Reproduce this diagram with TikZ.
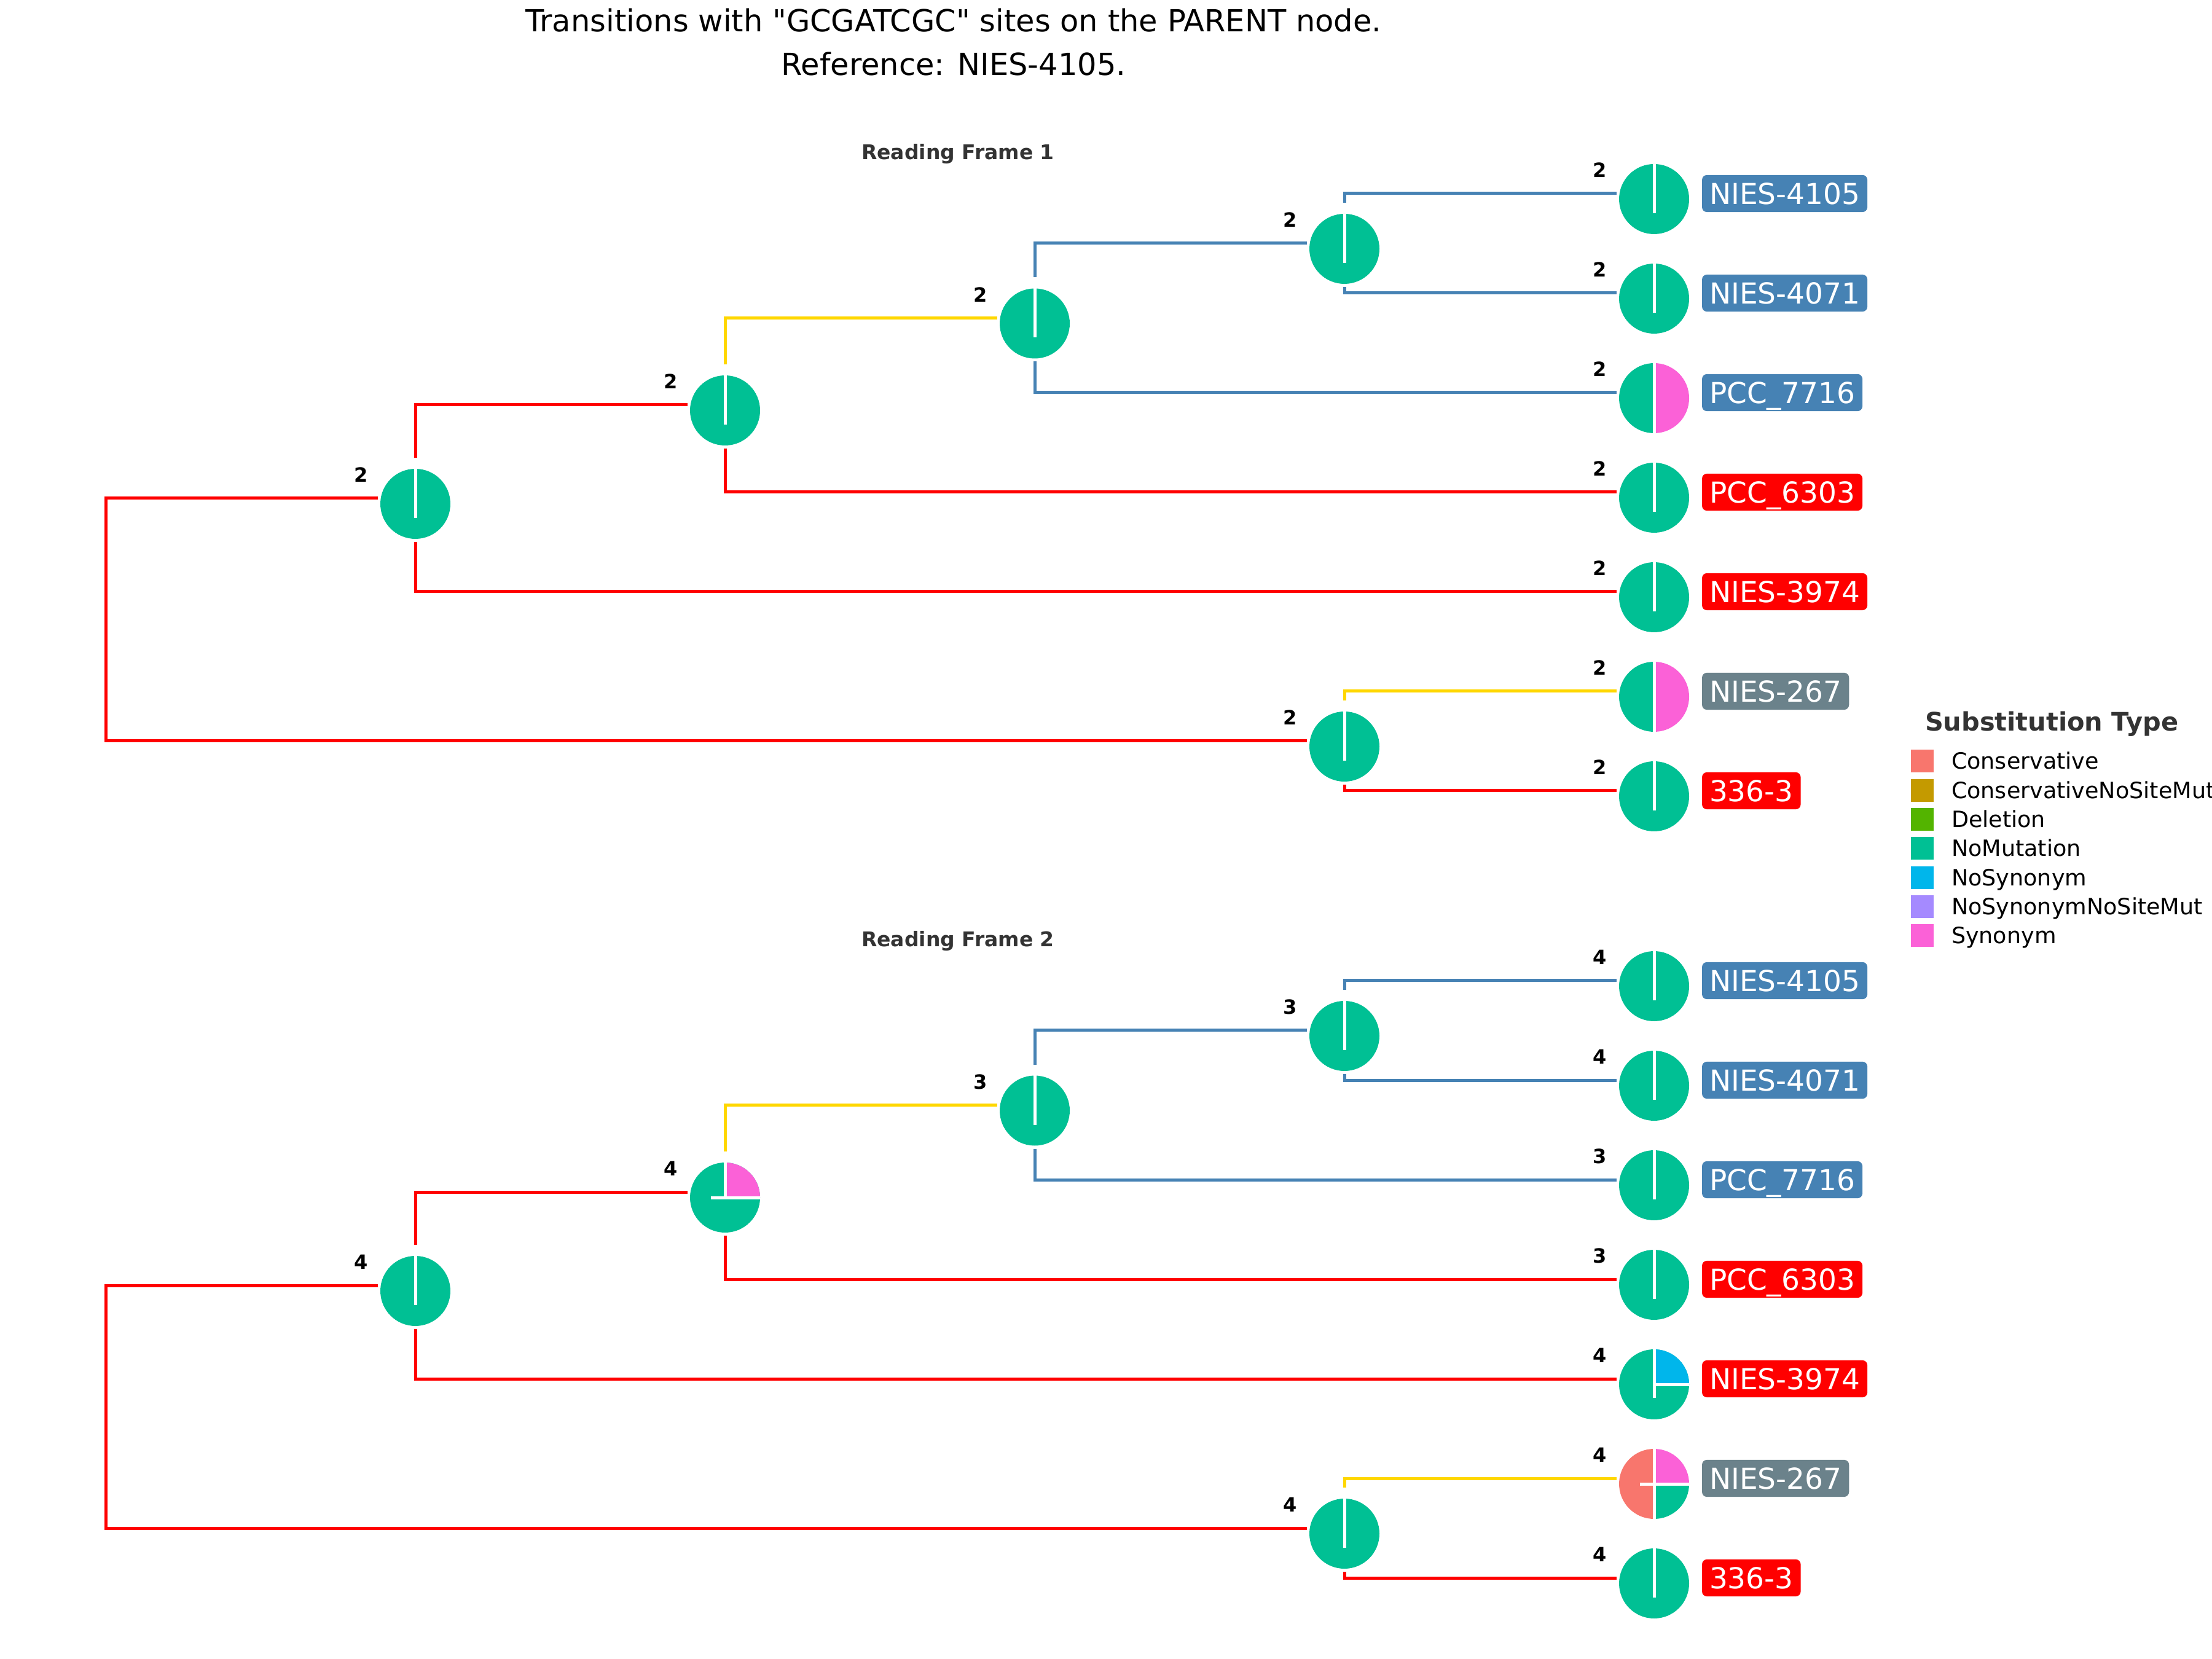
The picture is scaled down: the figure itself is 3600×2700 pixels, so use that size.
\documentclass[tikz,border=0pt]{standalone}
\usepackage{fontspec}
\setmainfont{DejaVu Sans}[Ligatures=TeXOff]
\usetikzlibrary{calc}
\definecolor{nomut}{HTML}{00C094}
\definecolor{syn}{HTML}{FB61D7}
\definecolor{nosyn}{HTML}{00B6EB}
\definecolor{cons}{HTML}{F8766D}
\definecolor{consnsm}{HTML}{C49A00}
\definecolor{delet}{HTML}{53B400}
\definecolor{nosynnsm}{HTML}{A58AFF}
\definecolor{steel}{HTML}{4682B4}
\definecolor{goldb}{HTML}{FFD700}
\definecolor{redb}{HTML}{FF0000}
\definecolor{graylab}{HTML}{6B828B}
\definecolor{darktxt}{HTML}{333333}
\tikzset{
  br/.style={line width=1pt},
  sep/.style={draw=white,line width=1pt},
  num/.style={font=\bfseries\fontsize{6.4}{6.4}\selectfont, inner sep=0pt, text=black},
  leaf/.style={anchor=west,text=white,rounded corners=1.6pt,font=\fontsize{9.4}{9.4}\selectfont,text height=6.85pt,text depth=0pt,inner xsep=2.4pt,inner ysep=2.6pt},
  ptitle/.style={anchor=base,font=\bfseries\fontsize{6.6}{6.6}\selectfont,text=darktxt,inner sep=0pt},
  key/.style={minimum size=7.4pt,inner sep=0pt},
  legtxt/.style={anchor=base west,font=\fontsize{7.3}{7.3}\selectfont,inner sep=0pt}
}
\newcommand\treecoords[2]{%
  \coordinate (#1root) at (172,{1008.5+#2});
  \coordinate (#1A) at (676,{811+#2});
  \coordinate (#1C) at (1180,{659+#2});
  \coordinate (#1D) at (1684,{517.5+#2});
  \coordinate (#1E) at (2188,{396+#2});
  \coordinate (#1B) at (2188,{1206+#2});
  \coordinate (#1L1) at (2692,{315+#2});
  \coordinate (#1L2) at (2692,{477+#2});
  \coordinate (#1L3) at (2692,{639+#2});
  \coordinate (#1L4) at (2692,{801+#2});
  \coordinate (#1L5) at (2692,{963+#2});
  \coordinate (#1L6) at (2692,{1125+#2});
  \coordinate (#1L7) at (2692,{1287+#2});
}
\newcommand\edgeD[3]{\draw[br,#1] ($(#2)+(0,71)$) |- ($(#3)+(-61,0)$);}
\newcommand\edgeU[3]{\draw[br,#1] ($(#2)+(0,-66)$) |- ($(#3)+(-61,0)$);}
\newcommand\treeedges[1]{%
  \draw[br,redb] ($(#1A)+(-61,0)$) -- (#1A -| #1root) -- (#1B -| #1root) -- ($(#1B)+(-61,0)$);
  \edgeU{redb}{#1A}{#1C}
  \edgeD{redb}{#1A}{#1L5}
  \edgeU{goldb}{#1C}{#1D}
  \edgeD{redb}{#1C}{#1L4}
  \edgeU{steel}{#1D}{#1E}
  \edgeD{steel}{#1D}{#1L3}
  \edgeU{steel}{#1E}{#1L1}
  \edgeD{steel}{#1E}{#1L2}
  \edgeU{goldb}{#1B}{#1L6}
  \edgeD{redb}{#1B}{#1L7}
}
\newcommand\leaflabels[1]{%
  \node[leaf,fill=steel] (#1n1) at ($(#1L1)+(77,0)$) {NIES-4105};
  \node[leaf,fill=steel] (#1n2) at ($(#1L2)+(77,0)$) {NIES-4071};
  \node[leaf,fill=steel] (#1n3) at ($(#1L3)+(77,0)$) {PCC\_7716};
  \node[leaf,fill=redb] (#1n4) at ($(#1L4)+(77,0)$) {PCC\_6303};
  \node[leaf,fill=redb] (#1n5) at ($(#1L5)+(77,0)$) {NIES-3974};
  \node[leaf,fill=graylab] (#1n6) at ($(#1L6)+(77,0)$) {NIES-267};
  \node[leaf,fill=redb] (#1n7) at ($(#1L7)+(77,0)$) {336-3};
}
\newcommand\nlab[2]{\node[num] (#1num) at ($(#1)+(-88,-38)$) {#2};}
% pies
\newcommand\pieG[1]{\begin{scope}[shift={(#1)},yshift=-1.8pt]
  \fill[nomut] (0,0) circle[radius=11.4pt];
  \draw[sep] (0,11.4pt) -- (0,-4.6pt);
\end{scope}}
\newcommand\pieH[3]{\begin{scope}[shift={(#1)},yshift=-1.8pt]
  \fill[#2] (0,0) -- (90:11.4pt) arc[start angle=90,end angle=270,radius=11.4pt] -- cycle;
  \fill[#3] (0,0) -- (-90:11.4pt) arc[start angle=-90,end angle=90,radius=11.4pt] -- cycle;
  \draw[sep] (0,11.4pt) -- (0,-11.4pt);
\end{scope}}
\newcommand\pieQ[1]{\begin{scope}[shift={(#1)},yshift=-1.8pt]
  \fill[nomut] (0,0) circle[radius=11.4pt];
  \fill[syn] (0,0) -- (0:11.4pt) arc[start angle=0,end angle=90,radius=11.4pt] -- cycle;
  \draw[sep] (0,11.4pt) -- (0,0);
  \draw[sep] (11.4pt,0) -- (-4.6pt,0);
\end{scope}}
\newcommand\pieNS[1]{\begin{scope}[shift={(#1)},yshift=-1.8pt]
  \fill[nomut] (0,0) circle[radius=11.4pt];
  \fill[nosyn] (0,0) -- (0:11.4pt) arc[start angle=0,end angle=90,radius=11.4pt] -- cycle;
  \draw[sep] (0,11.4pt) -- (0,-4.4pt);
  \draw[sep] (11.4pt,0) -- (0,0);
\end{scope}}
\newcommand\pieMix[1]{\begin{scope}[shift={(#1)},yshift=-1.8pt]
  \fill[cons] (0,0) -- (90:11.4pt) arc[start angle=90,end angle=270,radius=11.4pt] -- cycle;
  \fill[syn] (0,0) -- (0:11.4pt) arc[start angle=0,end angle=90,radius=11.4pt] -- cycle;
  \fill[nomut] (0,0) -- (-90:11.4pt) arc[start angle=-90,end angle=0,radius=11.4pt] -- cycle;
  \draw[sep] (0,11.4pt) -- (0,-11.4pt);
  \draw[sep] (11.4pt,0) -- (-4.6pt,0);
\end{scope}}
\begin{document}
\begin{tikzpicture}[x=0.2pt,y=-0.2pt]
\fill[white] (0,0) rectangle (3600,2700);
\clip (0,0) rectangle (3600,2700);
% titles
\node[anchor=base,inner sep=0pt,font=\fontsize{9.9}{9.9}\selectfont] (title1) at (1552,52) {Transitions with "GCGATCGC" sites on the PARENT node.};
\node[anchor=base,inner sep=0pt,font=\fontsize{9.9}{9.9}\selectfont] (title2) at (1552,123) {Reference: NIES-4105.};
\node[ptitle] (rf1) at (1559,260) {Reading Frame 1};
\node[ptitle] (rf2) at (1559,1541) {Reading Frame 2};
% trees
\treecoords{p}{0}
\treecoords{q}{1281}
\treeedges{p}
\treeedges{q}
% panel 1 pies
\pieG{pA}\pieG{pC}\pieG{pD}\pieG{pE}\pieG{pB}
\pieG{pL1}\pieG{pL2}\pieH{pL3}{nomut}{syn}\pieG{pL4}\pieG{pL5}\pieH{pL6}{nomut}{syn}\pieG{pL7}
% panel 2 pies
\pieG{qA}\pieQ{qC}\pieG{qD}\pieG{qE}\pieG{qB}
\pieG{qL1}\pieG{qL2}\pieG{qL3}\pieG{qL4}\pieNS{qL5}\pieMix{qL6}\pieG{qL7}
% numbers panel 1
\nlab{pA}{2}\nlab{pC}{2}\nlab{pD}{2}\nlab{pE}{2}\nlab{pB}{2}
\nlab{pL1}{2}\nlab{pL2}{2}\nlab{pL3}{2}\nlab{pL4}{2}\nlab{pL5}{2}\nlab{pL6}{2}\nlab{pL7}{2}
% numbers panel 2
\nlab{qA}{4}\nlab{qC}{4}\nlab{qD}{3}\nlab{qE}{3}\nlab{qB}{4}
\nlab{qL1}{4}\nlab{qL2}{4}\nlab{qL3}{3}\nlab{qL4}{3}\nlab{qL5}{4}\nlab{qL6}{4}\nlab{qL7}{4}
% leaf labels
\leaflabels{p}
\leaflabels{q}
% legend
\node[anchor=base west,inner sep=0pt,font=\bfseries\fontsize{8.3}{8.3}\selectfont,text=darktxt] (legtitle) at (3132,1190) {Substitution Type};
\foreach \c/\t [count=\k from 0] in {cons/Conservative,consnsm/ConservativeNoSiteMut,delet/Deletion,nomut/NoMutation,nosyn/NoSynonym,nosynnsm/NoSynonymNoSiteMut,syn/Synonym}{
  \node[key,fill=\c] (key\k) at (3128.5,{1239+47.3*\k}) {};
  \node[legtxt] (lt\k) at (3175,{1252+47.3*\k}) {\t};
}
\end{tikzpicture}
\end{document}
